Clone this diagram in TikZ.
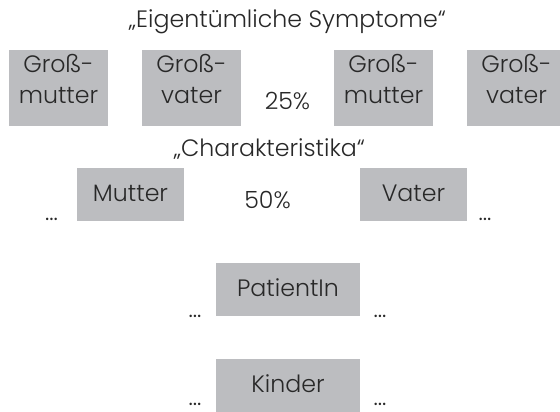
\documentclass[tikz,border=0pt]{standalone}
\usepackage{fontspec}
\setmainfont{Poppins Light}
\definecolor{boxgray}{RGB}{188,189,192}
\definecolor{ink}{RGB}{40,40,40}

\begin{document}
\begin{tikzpicture}[x=1pt,y=-1pt,
  every node/.style={text=ink,font=\fontsize{23.7}{31}\selectfont},
  famly/.style={fill=boxgray,inner sep=0pt,align=center,anchor=north},
  bigbox/.style={famly,text width=99pt,text height=22pt,text depth=54pt},
  smallbox/.style={famly,text height=33pt,text depth=20pt},
  lbl/.style={anchor=base,inner sep=0pt}]
\useasboundingbox (0,0) rectangle (560,412);

% Grosseltern
\node[bigbox] (gm1) at (58.5,50) {Groß-\\mutter};
\node[bigbox] (gv1) at (191.5,50) {Groß-\\vater};
\node[bigbox] (gm2) at (383.5,50) {Groß-\\mutter};
\node[bigbox] (gv2) at (516.5,50) {Groß-\\vater};
\node[lbl] (eig) at (287.5,28) {„Eigentümliche Symptome“};
\node[lbl] (p25) at (287.5,110) {25\%};

% Eltern
\node[lbl] (char) at (269.5,156) {„Charakteristika“};
\node[smallbox,text width=107pt] (mu) at (130.5,168) {Mutter};
\node[smallbox,text width=107pt] (va) at (413.5,168) {Vater};
\node[lbl] (p50) at (267.5,208) {50\%};
\node[lbl] (d1) at (51.5,220) {...};
\node[lbl] (d2) at (485,220) {...};

% PatientIn und Kinder
\node[smallbox,text width=144pt] (pat) at (288,263) {PatientIn};
\node[smallbox,text width=144pt] (ki) at (288,359) {Kinder};
\foreach \n/\y in {3/317,5/405}{
  \node[lbl] (d\n) at (195,\y) {...};
  \node[lbl] (e\n) at (380,\y) {...};
}
\end{tikzpicture}
\end{document}
